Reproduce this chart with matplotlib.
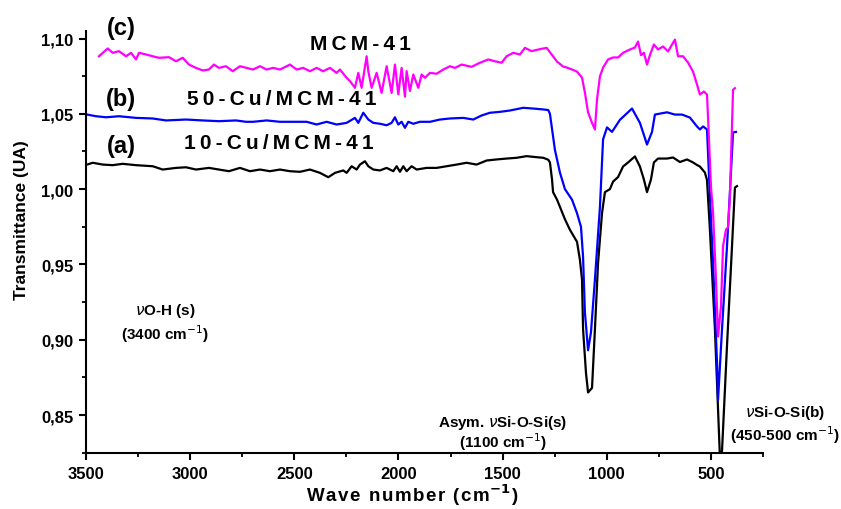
import numpy as np
import matplotlib
matplotlib.use('Agg')
import matplotlib.pyplot as plt
from matplotlib.ticker import MultipleLocator

plt.rcParams['font.family'] = ['Liberation Sans', 'DejaVu Sans']
plt.rcParams['mathtext.fontset'] = 'dejavusans'

# (c) MCM-41
wn_c = [3438, 3396, 3372, 3342, 3308, 3284, 3260, 3246, 3212, 3180, 3150, 3102, 3068, 3036,
        3006, 2972, 2940, 2910, 2886, 2862, 2828, 2796, 2761, 2729, 2698, 2665, 2633, 2602,
        2569, 2521, 2489, 2458, 2425, 2393, 2362, 2329, 2297, 2281, 2249, 2233, 2209, 2193,
        2177, 2153, 2145, 2129, 2105, 2081, 2057, 2033, 2017, 2001, 1985, 1969, 1961, 1945,
        1929, 1905, 1889, 1873, 1849, 1817, 1785, 1753, 1729, 1697, 1649, 1609, 1569, 1537,
        1505, 1481, 1449, 1417, 1393, 1361, 1329, 1289, 1239, 1210, 1191, 1167, 1143, 1119,
        1105, 1090, 1071, 1057, 1047, 1033, 1018, 994, 970, 946, 922, 889, 865, 850, 836, 822,
        807, 793, 774, 754, 730, 706, 673, 658, 634, 610, 586, 567, 553, 534, 519, 514, 500,
        490, 476, 466, 452, 442, 428, 418, 409, 394, 385]
t_c = [1.0882, 1.0934, 1.0905, 1.0916, 1.0882, 1.0905, 1.0861, 1.0905, 1.0894, 1.0882, 1.0872,
       1.0876, 1.0849, 1.0872, 1.0827, 1.0805, 1.0788, 1.0794, 1.0827, 1.0805, 1.0816, 1.0783,
       1.0816, 1.0805, 1.0794, 1.0816, 1.0794, 1.0805, 1.0794, 1.0827, 1.0794, 1.0805, 1.0783,
       1.0805, 1.0783, 1.0805, 1.0772, 1.0794, 1.0739, 1.0717, 1.0673, 1.0772, 1.0673, 1.0882,
       1.0783, 1.0673, 1.0772, 1.0639, 1.0816, 1.0639, 1.0827, 1.0630, 1.0805, 1.0614, 1.0783,
       1.0652, 1.0761, 1.0673, 1.0761, 1.0739, 1.0772, 1.0766, 1.0794, 1.0816, 1.0805, 1.0827,
       1.0812, 1.0839, 1.0861, 1.0849, 1.0839, 1.0882, 1.0905, 1.0894, 1.0938, 1.0916, 1.0927,
       1.0938, 1.0847, 1.0814, 1.0807, 1.0794, 1.0780, 1.0740, 1.0640, 1.0510, 1.0440, 1.0396,
       1.0595, 1.0748, 1.0807, 1.0861, 1.0874, 1.0874, 1.0905, 1.0927, 1.0940, 1.0980, 1.0890,
       1.0905, 1.0827, 1.0890, 1.0960, 1.0927, 1.0947, 1.0914, 1.0993, 1.0882, 1.0882, 1.0840,
       1.0780, 1.0695, 1.0628, 1.0648, 1.0628, 1.0475, 1.0017, 0.9845, 0.9400, 0.9021, 0.9220,
       0.9620, 0.9732, 0.9745, 0.9950, 1.0660, 1.0670]

# (b) 50-Cu/MCM-41
wn_b = [3495, 3452, 3404, 3342, 3260, 3180, 3116, 3020, 2940, 2862, 2780, 2732, 2698, 2633,
        2569, 2506, 2441, 2393, 2345, 2297, 2249, 2209, 2193, 2169, 2145, 2121, 2089, 2057,
        2033, 2017, 2001, 1985, 1969, 1953, 1929, 1897, 1849, 1801, 1753, 1689, 1641, 1601,
        1561, 1513, 1465, 1401, 1353, 1305, 1281, 1273, 1249, 1225, 1201, 1167, 1143, 1124,
        1114, 1105, 1090, 1076, 1057, 1033, 1018, 999, 975, 937, 879, 841, 807, 783, 769, 711,
        673, 639, 601, 567, 553, 538, 519, 505, 490, 471, 466, 447, 423, 409, 394, 380]
t_b = [1.0495, 1.0484, 1.0477, 1.0484, 1.0473, 1.0469, 1.0456, 1.0462, 1.0456, 1.0451, 1.0456,
       1.0447, 1.0447, 1.0456, 1.0447, 1.0447, 1.0447, 1.0429, 1.0447, 1.0429, 1.0440, 1.0473,
       1.0440, 1.0507, 1.0462, 1.0440, 1.0434, 1.0424, 1.0440, 1.0477, 1.0429, 1.0447, 1.0407,
       1.0447, 1.0434, 1.0447, 1.0447, 1.0462, 1.0469, 1.0473, 1.0462, 1.0489, 1.0507, 1.0513,
       1.0522, 1.0540, 1.0535, 1.0529, 1.0525, 1.0500, 1.0260, 1.0110, 1.0000, 0.9930, 0.9840,
       0.9750, 0.9550, 0.9180, 0.8930, 0.9050, 0.9400, 0.9880, 1.0330, 1.0410, 1.0380, 1.0460,
       1.0535, 1.0440, 1.0296, 1.0380, 1.0495, 1.0510, 1.0495, 1.0495, 1.0475, 1.0416, 1.0396,
       1.0416, 1.0396, 0.9950, 0.9510, 0.8850, 0.8600, 0.9070, 0.9620, 0.9980, 1.0376, 1.0380]

# (a) 10-Cu/MCM-41
wn_a = [3495, 3468, 3420, 3372, 3324, 3260, 3180, 3132, 3068, 3020, 2972, 2910, 2862, 2814,
        2761, 2713, 2665, 2617, 2569, 2521, 2473, 2425, 2377, 2337, 2305, 2265, 2249, 2225,
        2201, 2185, 2161, 2145, 2121, 2089, 2057, 2025, 2009, 1993, 1977, 1961, 1937, 1913,
        1865, 1817, 1769, 1721, 1673, 1625, 1577, 1529, 1481, 1433, 1385, 1337, 1305, 1281,
        1273, 1263, 1258, 1239, 1201, 1177, 1143, 1129, 1119, 1114, 1100, 1090, 1071, 1057,
        1042, 1023, 1009, 985, 970, 946, 922, 898, 865, 841, 822, 807, 788, 774, 754, 711, 682,
        649, 615, 586, 567, 553, 529, 519, 505, 481, 457, 447, 423, 399, 385, 375]
t_a = [1.0163, 1.0175, 1.0163, 1.0159, 1.0168, 1.0159, 1.0152, 1.0130, 1.0141, 1.0145, 1.0130,
       1.0141, 1.0130, 1.0119, 1.0141, 1.0119, 1.0130, 1.0119, 1.0130, 1.0119, 1.0115, 1.0130,
       1.0108, 1.0079, 1.0108, 1.0124, 1.0108, 1.0152, 1.0130, 1.0163, 1.0185, 1.0152, 1.0130,
       1.0124, 1.0141, 1.0119, 1.0152, 1.0115, 1.0152, 1.0119, 1.0152, 1.0130, 1.0141, 1.0141,
       1.0152, 1.0163, 1.0175, 1.0163, 1.0190, 1.0197, 1.0203, 1.0208, 1.0219, 1.0212, 1.0208,
       1.0195, 1.0177, 1.0064, 0.9980, 0.9930, 0.9800, 0.9730, 0.9650, 0.9530, 0.9400, 0.9070,
       0.8780, 0.8650, 0.8680, 0.9070, 0.9510, 0.9840, 0.9980, 1.0000, 1.0050, 1.0080, 1.0150,
       1.0177, 1.0217, 1.0150, 1.0064, 0.9980, 1.0064, 1.0177, 1.0203, 1.0203, 1.0210, 1.0180,
       1.0197, 1.0177, 1.0160, 1.0150, 1.0110, 1.0060, 0.9730, 0.9070, 0.8220, 0.8260, 0.8960,
       0.9620, 1.0010, 1.0020]

xticks = [3500, 3000, 2500, 2000, 1500, 1000, 500]
yticks = [0.85, 0.90, 0.95, 1.00, 1.05, 1.10]
ytick_labels = ['0,85', '0,90', '0,95', '1,00', '1,05', '1,10']


def spaced(s, sep='\u2009'):
    # wide letter spacing like the original figure
    return sep.join(s)


fig = plt.figure(figsize=(8.41, 5.10), dpi=100)
ax = fig.add_axes([0.1023, 0.1098, 0.805, 0.8275])

ax.plot(wn_a, t_a, color='black', lw=1.6)
ax.plot(wn_b, t_b, color='#0000ff', lw=1.6)
ax.plot(wn_c, t_c, color='#ff00ff', lw=1.6)

ax.set_xlim(3500, 250)
ax.set_ylim(0.8248, 1.105)
ax.set_xticks(xticks)
ax.set_xticklabels([str(v) for v in xticks])
ax.set_yticks(yticks)
ax.set_yticklabels(ytick_labels)
ax.xaxis.set_minor_locator(MultipleLocator(250))
ax.yaxis.set_minor_locator(MultipleLocator(0.025))

for s in ['top', 'right']:
    ax.spines[s].set_visible(False)
for s in ['left', 'bottom']:
    ax.spines[s].set_linewidth(1.5)
ax.tick_params(which='major', direction='out', length=5, width=1.5, labelsize=12, pad=4)
ax.tick_params(which='minor', direction='out', length=3, width=1.3)
for lab in ax.get_xticklabels() + ax.get_yticklabels():
    lab.set_fontweight('bold')

ax.set_ylabel('Transmittance (UA)', fontsize=12.5, fontweight='bold', va='center')
ax.yaxis.set_label_coords(-0.095, 0.555)
ax.set_xlabel(spaced('Wave number (cm', '\u200a') + '$^{\\mathbf{-1}}$' + '\u200a)', fontsize=13.5,
              fontweight='bold', va='center')
ax.xaxis.set_label_coords(0.482, -0.097)

# sample labels
fig.text(0.144, 0.945, '(c)', fontsize=17, fontweight='bold', ha='center', va='center')
fig.text(0.144, 0.804, '(b)', fontsize=17, fontweight='bold', ha='center', va='center')
fig.text(0.144, 0.712, '(a)', fontsize=17, fontweight='bold', ha='center', va='center')
fig.text(0.428, 0.912, spaced('MCM-41'), fontsize=15, fontweight='bold', ha='center', va='center')
fig.text(0.335, 0.804, spaced('50-Cu/MCM-41'), fontsize=15, fontweight='bold', ha='center', va='center')
fig.text(0.332, 0.718, spaced('10-Cu/MCM-41'), fontsize=15, fontweight='bold', ha='center', va='center')

# band assignments
fs = 11
fig.text(0.196, 0.390, r'$\nu$O-H (s)', fontsize=fs, fontweight='bold', ha='center', va='center')
fig.text(0.196, 0.345, r'(3400 cm$^{-1}$)', fontsize=fs, fontweight='bold', ha='center', va='center')
fig.text(0.598, 0.170, r'Asym. $\nu$Si-O-Si(s)', fontsize=fs, fontweight='bold', ha='center', va='center')
fig.text(0.598, 0.133, r'(1100 cm$^{-1}$)', fontsize=fs, fontweight='bold', ha='center', va='center')
fig.text(0.934, 0.190, r'$\nu$Si-O-Si(b)', fontsize=fs, fontweight='bold', ha='center', va='center')
fig.text(0.934, 0.147, r'(450-500 cm$^{-1}$)', fontsize=fs, fontweight='bold', ha='center', va='center')

fig.savefig('out.png', dpi=100)
